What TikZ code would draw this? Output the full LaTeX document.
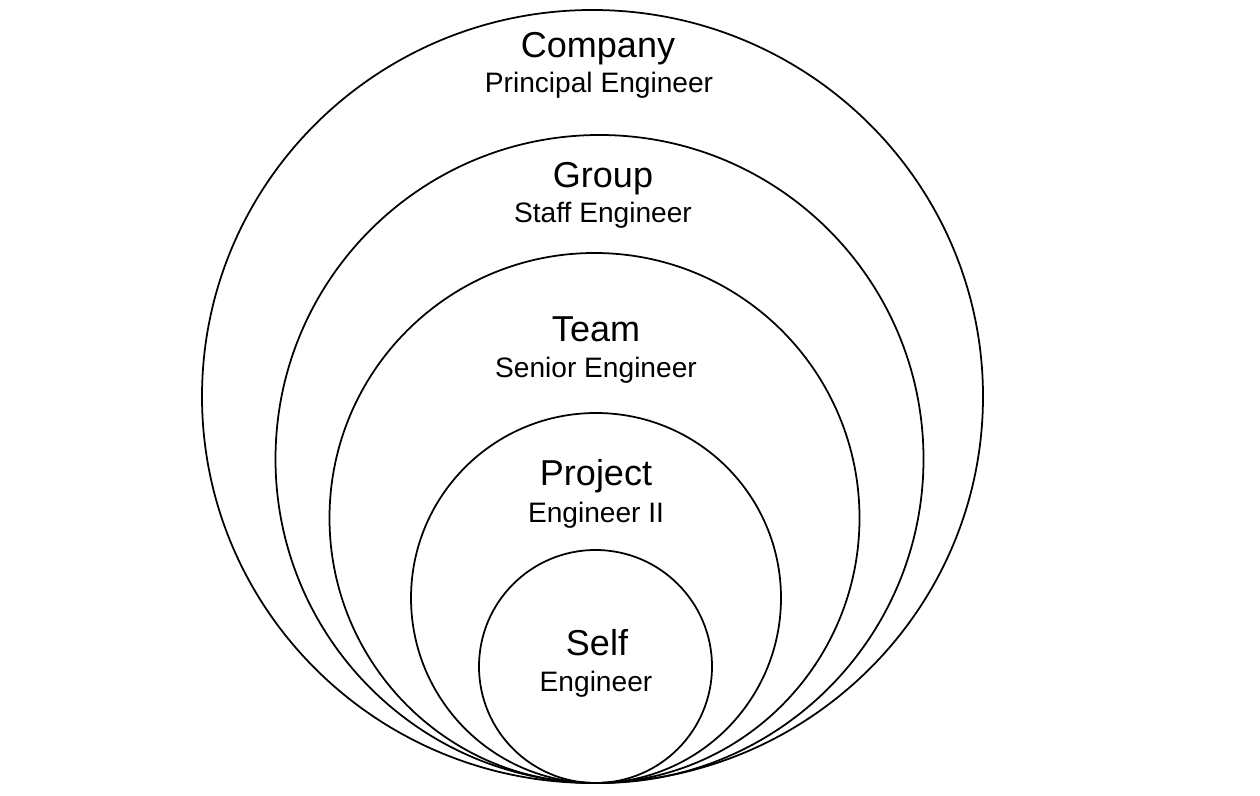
\documentclass[tikz,border=0pt]{standalone}
\usepackage{fontspec}
\setmainfont{Liberation Sans}
\usetikzlibrary{shapes.geometric}

\begin{document}
\begin{tikzpicture}[
    ring/.style={ellipse, draw, line width=1pt, inner sep=0pt, outer sep=0pt},
    title/.style={anchor=base, inner sep=0pt, font=\fontsize{20.5}{24}\selectfont},
    role/.style={anchor=base, inner sep=0pt, font=\fontsize{16}{19}\selectfont}
]
\useasboundingbox (0,0) rectangle (25.2,15.9);

% Rings
\node[ring, minimum width=15.62cm, minimum height=15.46cm] (companyring) at (11.85,7.97) {};
\node[ring, minimum width=12.96cm, minimum height=12.96cm] (groupring) at (11.99,6.72) {};
\node[ring, minimum width=10.60cm, minimum height=10.60cm] (teamring) at (11.89,5.54) {};
\node[ring, minimum width=7.40cm, minimum height=7.40cm] (projectring) at (11.92,3.94) {};
\node[ring, minimum width=4.66cm, minimum height=4.66cm] (selfring) at (11.91,2.57) {};

% Labels
\node[title] (company) at (11.96,14.74) {Company};
\node[role] (principal) at (11.98,14.04) {Principal Engineer};
\node[title] (group) at (12.06,12.14) {Group};
\node[role] (staff) at (12.06,11.44) {Staff Engineer};
\node[title] (team) at (11.92,9.06) {Team};
\node[role] (senior) at (11.92,8.34) {Senior Engineer};
\node[title] (project) at (11.92,6.18) {Project};
\node[role] (engtwo) at (11.92,5.44) {Engineer II};
\node[title] (self) at (11.94,2.80) {Self};
\node[role] (engineer) at (11.92,2.08) {Engineer};

\end{tikzpicture}
\end{document}
